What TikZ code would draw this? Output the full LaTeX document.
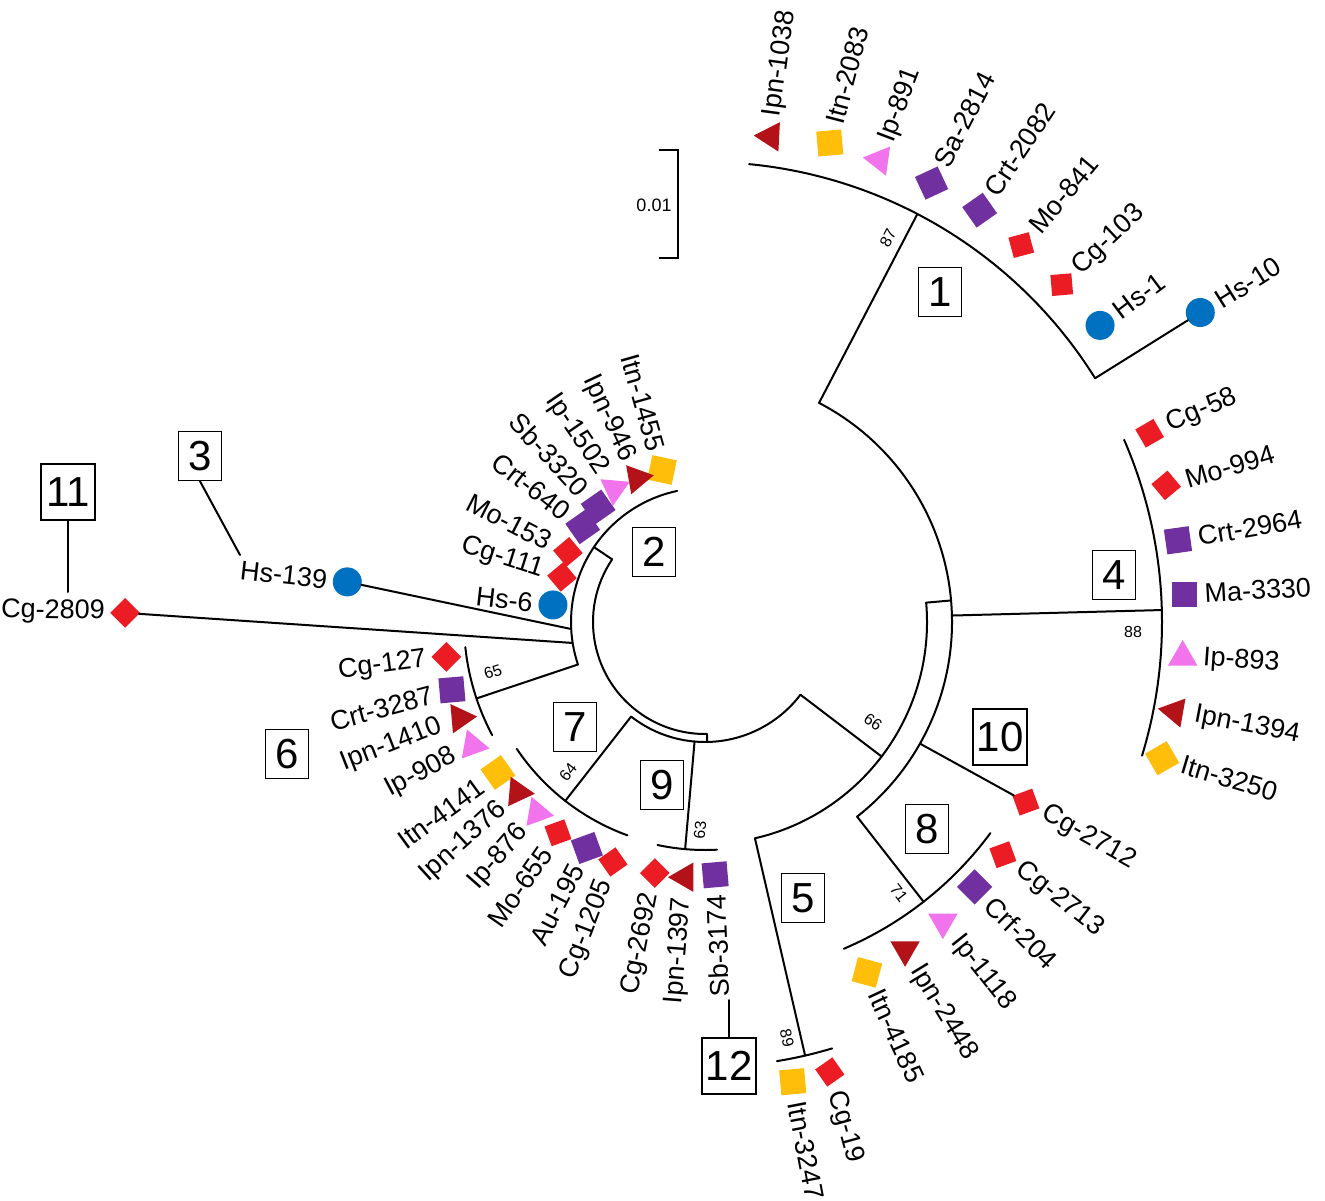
\documentclass[tikz,border=0pt]{standalone}
\usepackage{fontspec}
\setmainfont{Liberation Sans}
\usetikzlibrary{shapes.geometric}

\definecolor{cred}{RGB}{236,28,36}
\definecolor{cdrd}{RGB}{178,18,24}
\definecolor{corg}{RGB}{255,190,10}
\definecolor{cpnk}{RGB}{242,116,236}
\definecolor{cpur}{RGB}{112,48,160}
\definecolor{cblu}{RGB}{0,112,192}

\newcommand{\leaffnt}{\fontsize{13.5}{16}\selectfont}
\newcommand{\boxfnt}{\fontsize{21}{24}\selectfont}
\newcommand{\bootfnt}{\fontsize{8}{9}\selectfont}
\newcommand{\barfnt}{\fontsize{9}{10}\selectfont}

% leaf on the right half: marker, then label reading outwards
\newcommand{\LeafR}[5]{\node[#4] (#1) at (#2:#3) {};
  \node[leaflab,anchor=west,rotate=#2] (#1t) at (#2:#3+20) {#5};}
% leaf on the left half: label reading inwards, ending at the marker
\newcommand{\LeafL}[5]{\node[#4] (#1) at (#2:#3) {};
  \node[leaflab,anchor=east,rotate=#2-180] (#1t) at (#2:#3+20) {#5};}
% arc of an internal node around the root centre
\newcommand{\TreeArc}[3]{\draw[phy] (#1:#3) arc[start angle=#1,end angle=#2,radius=0.5pt*#3];}

\begin{document}
\begin{tikzpicture}[x=0.5pt,y=0.5pt,
  phy/.style={line width=1pt, line cap=round, line join=round},
  mk/.style={inner sep=0pt, outer sep=0pt, draw=none},
  sqP/.style={mk, rectangle, minimum size=12.5pt, fill=cpur},
  sqO/.style={mk, rectangle, minimum size=12.5pt, fill=corg},
  sqR/.style={mk, rectangle, minimum size=10.5pt, fill=cred},
  mkdot/.style={mk, circle, minimum size=14.5pt, fill=cblu},
  trD/.style={mk, regular polygon, regular polygon sides=3, minimum size=17pt, fill=cdrd},
  trP/.style={mk, regular polygon, regular polygon sides=3, minimum size=17pt, fill=cpnk},
  leaflab/.style={inner sep=0pt, font=\leaffnt},
  numbox/.style={draw, line width=0.75pt, inner sep=0pt, font=\boxfnt, minimum width=21.5pt, minimum height=24.5pt},
  widebox/.style={numbox, minimum width=27pt, minimum height=28pt},
  boot/.style={inner sep=0pt, font=\bootfnt}]
\useasboundingbox (0,0) rectangle (1325,1200);
\fill[white] (0,0) rectangle (1325,1200);

% scale bar
\coordinate (sbTl) at (659,1050);
\coordinate (sbT) at (678,1050);
\coordinate (sbB) at (678,942);
\coordinate (sbBl) at (659,942);
\draw[line width=0.75pt] (sbTl) -- (sbT) -- (sbB) -- (sbBl);
\node[inner sep=0pt, font=\barfnt] (sblab) at (654,995) {0.01};

\begin{scope}[shift={(705,578)}]
  % ---- leaves ----
  % clade 1
  \LeafR{Ipn1038}{82.3}{490}{trD,rotate=87}{Ipn-1038}
  \LeafR{Itn2083}{75.4}{495}{sqO,rotate=5}{Itn-2083}
  \LeafR{Ip891}{69.3}{494}{trP,rotate=202}{Ip-891}
  \LeafR{Sa2814}{62.7}{494}{sqP,rotate=25}{Sa-2814}
  \LeafR{Crt2082}{56.3}{495}{sqP,rotate=35}{Crt-2082}
  \LeafR{Mo841}{50}{492}{sqR,rotate=15}{Mo-841}
  \LeafR{Cg103}{43.4}{491}{sqR,rotate=5}{Cg-103}
  \LeafR{Hs1}{36.9}{494}{mkdot}{Hs-1}
  \LeafR{Hs10}{32}{584}{mkdot}{Hs-10}
  % clade 4
  \LeafR{Cg58}{23}{483}{sqR,rotate=30}{Cg-58}
  \LeafR{Mo994}{16.5}{481}{sqR,rotate=40}{Mo-994}
  \LeafR{Crt2964}{9.8}{480}{sqP,rotate=8}{Crt-2964}
  \LeafR{Ma3330}{3.3}{480}{sqP}{Ma-3330}
  \LeafR{Ip893}{-4.2}{479}{trP}{Ip-893}
  \LeafR{Ipn1394}{-10.8}{478}{trD,rotate=80}{Ipn-1394}
  \LeafR{Itn3250}{-16.6}{477}{sqO,rotate=30}{Itn-3250}
  % clade 10
  \LeafR{Cg2712}{-29.3}{368}{sqR,rotate=20}{Cg-2712}
  % clade 8
  \LeafR{Cg2713}{-38}{378}{sqR,rotate=20}{Cg-2713}
  \LeafR{Crf204}{-44.5}{378}{sqP,rotate=45}{Crf-204}
  \LeafR{Ip1118}{-51.6}{383}{trP,rotate=180}{Ip-1118}
  \LeafR{Ipn2448}{-58.6}{384}{trD,rotate=180}{Ipn-2448}
  \LeafR{Itn4185}{-65.2}{386}{sqO,rotate=-15}{Itn-4185}
  % clade 5
  \LeafR{Itn3247}{-79.2}{468}{sqO,rotate=5}{Itn-3247}
  \LeafR{Cg19}{-74.5}{467}{sqR,rotate=35}{Cg-19}
  % clade 9
  \LeafL{Cg2692}{258.7}{256}{sqR,rotate=45}{Cg-2692}
  \LeafL{Ipn1397}{265.5}{256}{trD,rotate=90}{Ipn-1397}
  \LeafL{Sb3174}{272.3}{253}{sqP,rotate=5}{Sb-3174}
  % clade 7
  \LeafL{Itn4141}{216}{256}{sqO,rotate=35}{Itn-4141}
  \LeafL{Ipn1376}{222.3}{253}{trD,rotate=-95}{Ipn-1376}
  \LeafL{Ip876}{228.7}{254}{trP,rotate=-100}{Ip-876}
  \LeafL{Mo655}{235.1}{257}{sqR,rotate=20}{Mo-655}
  \LeafL{Au195}{242.4}{255}{sqP,rotate=20}{Au-195}
  \LeafL{Cg1205}{249}{257}{sqR,rotate=35}{Cg-1205}
  % clade 6
  \LeafL{Cg127}{187.7}{261}{sqR,rotate=45}{Cg-127}
  \LeafL{Crt3287}{195}{262}{sqP,rotate=5}{Crt-3287}
  \LeafL{Ipn1410}{201.4}{263}{trD,rotate=-85}{Ipn-1410}
  \LeafL{Ip908}{208}{263}{trP,rotate=-100}{Ip-908}
  % clade 2
  \LeafL{Itn1455}{105.8}{158}{sqO,rotate=-12}{Itn-1455}
  \LeafL{Ipn946}{115.3}{159}{trD,rotate=160}{Ipn-946}
  \LeafL{Ip1502}{124.3}{161}{trP,rotate=175}{Ip-1502}
  \LeafL{Sb3320}{132.9}{157}{sqP,rotate=35}{Sb-3320}
  \LeafL{Crt640}{142.1}{155}{sqP,rotate=35}{Crt-640}
  \LeafL{Mo153}{152.9}{154}{sqR,rotate=40}{Mo-153}
  \LeafL{Cg111}{162.5}{150}{sqR,rotate=40}{Cg-111}
  \LeafL{Hs6}{173.6}{153}{mkdot}{Hs-6}
  % clades 3 and 11
  \LeafL{Hs139}{173.6}{360}{mkdot}{Hs-139}
  \LeafL{Cg2809}{179.1}{580}{sqR,rotate=45}{Cg-2809}

  % ---- branches ----
  % root arc
  \coordinate (V1) at (146:112);
  \coordinate (V2) at (271:112);
  \TreeArc{146}{271}{112}
  % node carrying clade 2, Hs-139, Cg-2809 and clade 6
  \coordinate (Z0) at (146:134);
  \draw[phy] (V1) -- (Z0);
  \TreeArc{102}{198.5}{134}
  \coordinate (Zh) at (183:134);
  \coordinate (Zc) at (189:134);
  \coordinate (Z6) at (198.5:134);
  \coordinate (C6) at (198.5:241);
  \draw[phy] (Zh) -- (Hs139);
  \draw[phy] (Zc) -- (Cg2809);
  \draw[phy] (Z6) -- (C6);
  \TreeArc{186}{208}{241}
  % node carrying clades 7, 9 and the rest
  \coordinate (W0) at (271:120);
  \draw[phy] (V2) -- (W0);
  \TreeArc{232}{322.7}{120}
  \coordinate (W7) at (232:120);
  \coordinate (C7) at (232:227);
  \draw[phy] (W7) -- (C7);
  \TreeArc{214}{250}{227}
  \coordinate (W9) at (265:120);
  \coordinate (C9) at (265:228);
  \draw[phy] (W9) -- (C9);
  \TreeArc{258}{273}{228}
  \coordinate (W66) at (322.7:120);
  \coordinate (X0) at (322.7:222);
  \draw[phy] (W66) -- (X0);
  \TreeArc{283}{365}{222}
  % clade 5
  \coordinate (X5) at (283:222);
  \coordinate (C5) at (283:445);
  \draw[phy] (X5) -- (C5);
  \TreeArc{279.3}{286.6}{445}
  % node carrying clades 1, 4, 10, 8
  \coordinate (X1) at (5:222);
  \coordinate (Y0) at (5:247);
  \draw[phy] (X1) -- (Y0);
  \TreeArc{-52}{62.5}{247}
  \coordinate (Y1) at (62.5:247);
  \coordinate (C1) at (62.5:460);
  \draw[phy] (Y1) -- (C1);
  \TreeArc{32}{84.5}{460}
  \coordinate (C1e) at (32:460);
  \draw[phy] (C1e) -- (Hs10);
  \coordinate (Y4) at (1.5:247);
  \coordinate (C4) at (1.5:457);
  \draw[phy] (Y4) -- (C4);
  \TreeArc{-17}{23.5}{457}
  \coordinate (Y10) at (-29.5:247);
  \draw[phy] (Y10) -- (Cg2712);
  \coordinate (Y8) at (-52:247);
  \coordinate (C8) at (-52:355);
  \draw[phy] (Y8) -- (C8);
  \TreeArc{-67}{-36.5}{355}
\end{scope}

% bootstrap values
\node[boot, rotate=63] (b87) at (888,962) {87};
\node[boot] (b88) at (1133,568) {88};
\node[boot, rotate=-35] (b66) at (873,478) {66};
\node[boot, rotate=-52] (b71) at (899,307) {71};
\node[boot, rotate=-77] (b89) at (787,162) {89};
\node[boot, rotate=85] (b63) at (700,370) {63};
\node[boot, rotate=52] (b64) at (568,428) {64};
\node[boot, rotate=18] (b65) at (493,528) {65};

% clade numbers
\node[numbox] (k1) at (940,908) {1};
\node[numbox] (k2) at (654,648) {2};
\node[numbox] (k3) at (200,744) {3};
\node[numbox] (k4) at (1114,625) {4};
\node[numbox] (k5) at (803,302) {5};
\node[numbox] (k6) at (287,446) {6};
\node[numbox] (k7) at (575,473) {7};
\node[numbox] (k8) at (927,371) {8};
\node[numbox] (k9) at (662,415) {9};
\node[widebox] (k10) at (1000,463) {10};
\node[widebox] (k11) at (68,708) {11};
\node[widebox] (k12) at (729,134) {12};

\coordinate (p3) at (240,645);
\coordinate (p11) at (68,608);
\coordinate (p12) at (729,200);
\draw[phy] (k3.south) -- (p3);
\draw[phy] (k11.south) -- (p11);
\draw[phy] (k12.north) -- (p12);
\end{tikzpicture}
\end{document}
